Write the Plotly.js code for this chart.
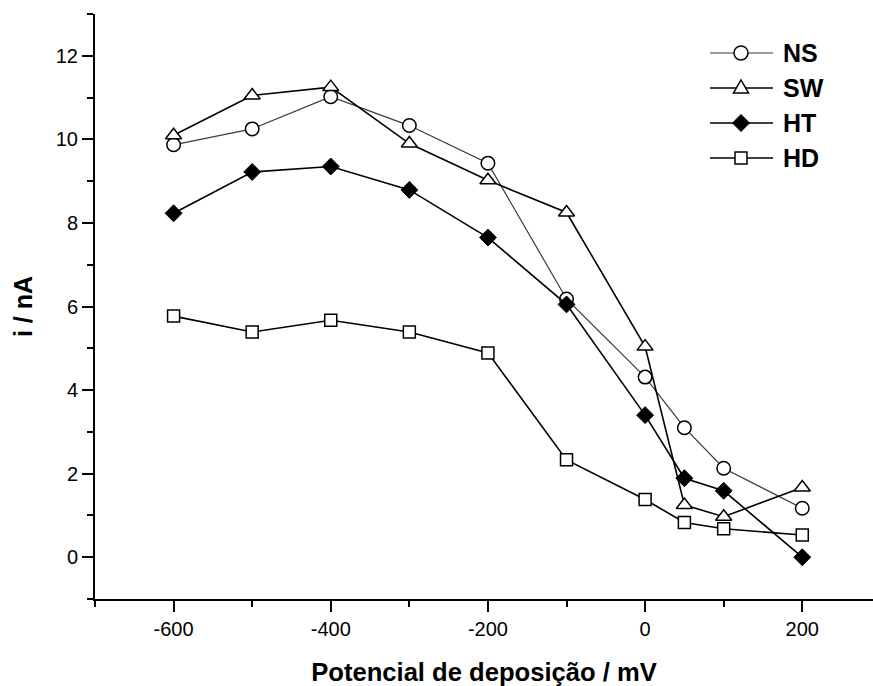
<!DOCTYPE html>
<html>
<head>
<meta charset="utf-8">
<script src="https://cdn.plot.ly/plotly-3.0.1.min.js"></script>
<style>html,body{margin:0;padding:0;background:#fff;}</style>
</head>
<body>
<div id="chart" style="width:873px;height:686px;"></div>
<script>
// Deposition potential (mV)
const potential = [-600, -500, -400, -300, -200, -100, 0, 50, 100, 200];
// Currents (nA)
const NS = [9.87, 10.25, 11.02, 10.33, 9.43, 6.18, 4.31, 3.10, 2.13, 1.17];
const SW = [10.10, 11.05, 11.25, 9.90, 9.02, 8.25, 5.04, 1.25, 0.97, 1.67];
const HT = [8.23, 9.22, 9.35, 8.79, 7.65, 6.05, 3.40, 1.89, 1.59, 0.00];
const HD = [5.77, 5.39, 5.67, 5.39, 4.89, 2.33, 1.38, 0.83, 0.68, 0.53];
const seriesNames = ['NS', 'SW', 'HT', 'HD'];
// Tick labels
const xTickVals = [-600, -400, -200, 0, 200];
const xTickText = ['-600', '-400', '-200', '0', '200'];
const yTickVals = [0, 2, 4, 6, 8, 10, 12];
const yTickText = ['0', '2', '4', '6', '8', '10', '12'];

const FONT = 'Liberation Sans, Arial, Helvetica, sans-serif';

const styles = [
  {line: {color: '#3a3a3a', width: 1.2}, symbol: 'circle', size: 13.5, fill: '#fff', lw: 1.5},
  {line: {color: '#000', width: 1.6}, symbol: 'triangle-up', size: 14, fill: '#fff', lw: 1.5},
  {line: {color: '#000', width: 1.6}, symbol: 'diamond', size: 13, fill: '#000', lw: 1},
  {line: {color: '#000', width: 1.6}, symbol: 'square', size: 12, fill: '#fff', lw: 1.5}
];
const seriesData = [NS, SW, HT, HD];

const traces = seriesData.map((ys, i) => ({
  x: potential, y: ys, name: seriesNames[i], mode: 'lines+markers', type: 'scatter',
  line: styles[i].line,
  marker: {symbol: styles[i].symbol, size: styles[i].size, color: styles[i].fill,
           line: {color: '#000', width: styles[i].lw}}
}));

// Plot area geometry (pixels)
const W = 873, H = 686;
const M = {l: 95, r: 0, t: 14, b: 87};
const plotW = W - M.l - M.r, plotH = H - M.t - M.b;
const px2x = p => (p - M.l) / plotW;
const px2y = p => 1 - (p - M.t) / plotH;

// Custom legend (Origin-style: long line with centred symbol)
const legendRows = [53, 88, 123, 158];
const legendCx = 741, legendTextX = 781;
const shapes = [];
const annotations = [];
const markerPaths = [
  null,
  'M-7.5,-5 L7.5,-5 L0,8 Z',
  'M0,-8.5 L8.5,0 L0,8.5 L-8.5,0 Z',
  'M-6,-6 L6,-6 L6,6 L-6,6 Z'
];
legendRows.forEach((ry, i) => {
  const xa = px2x(legendCx), ya = px2y(ry);
  shapes.push({type: 'line', xref: 'paper', yref: 'paper', xsizemode: 'pixel', ysizemode: 'pixel',
    xanchor: xa, yanchor: ya, x0: -31, x1: 32, y0: 0, y1: 0,
    line: {color: i === 0 ? '#3a3a3a' : '#000', width: i === 0 ? 1.2 : 1.6}});
  if (i === 0) {
    shapes.push({type: 'circle', xref: 'paper', yref: 'paper', xsizemode: 'pixel', ysizemode: 'pixel',
      xanchor: xa, yanchor: ya, x0: -7, x1: 7, y0: -7, y1: 7,
      fillcolor: '#fff', line: {color: '#000', width: 1.5}});
  } else {
    shapes.push({type: 'path', xref: 'paper', yref: 'paper', xsizemode: 'pixel', ysizemode: 'pixel',
      xanchor: xa, yanchor: ya, path: markerPaths[i],
      fillcolor: styles[i].fill, line: {color: '#000', width: styles[i].lw}});
  }
  annotations.push({xref: 'paper', yref: 'paper', x: px2x(legendTextX), y: ya,
    xanchor: 'left', yanchor: 'middle', showarrow: false, text: seriesNames[i],
    font: {family: FONT, size: 25, weight: 'bold', color: '#000'}});
});

const layout = {
  width: W, height: H,
  margin: M,
  paper_bgcolor: '#fff', plot_bgcolor: '#fff',
  font: {family: FONT, color: '#000', size: 20},
  showlegend: false,
  shapes: shapes,
  annotations: annotations,
  xaxis: {
    range: [-700, 290], showgrid: false, zeroline: false,
    showline: true, linecolor: '#000', linewidth: 2, mirror: false,
    ticks: 'outside', tickcolor: '#000', tickwidth: 2, ticklen: 11,
    tickmode: 'array', tickvals: xTickVals, ticktext: xTickText,
    minor: {ticks: 'outside', ticklen: 6, tickwidth: 2, tickcolor: '#000', dtick: 100, tick0: -700},
    tickfont: {family: FONT, size: 20, color: '#000'},
    title: {text: 'Potencial de deposição / mV', standoff: 24,
            font: {family: FONT, size: 25.6, weight: 'bold', color: '#000'}}
  },
  yaxis: {
    range: [-1, 13], showgrid: false, zeroline: false,
    showline: true, linecolor: '#000', linewidth: 2, mirror: false,
    ticks: 'outside', tickcolor: '#000', tickwidth: 2, ticklen: 11,
    tickmode: 'array', tickvals: yTickVals, ticktext: yTickText,
    minor: {ticks: 'outside', ticklen: 6, tickwidth: 2, tickcolor: '#000', dtick: 1, tick0: -1},
    tickfont: {family: FONT, size: 20, color: '#000'},
    title: {text: 'i / nA', standoff: 16,
            font: {family: FONT, size: 25, weight: 'bold', color: '#000'}}
  }
};

Plotly.newPlot('chart', traces, layout, {displayModeBar: false, staticPlot: true});
</script>
</body>
</html>
